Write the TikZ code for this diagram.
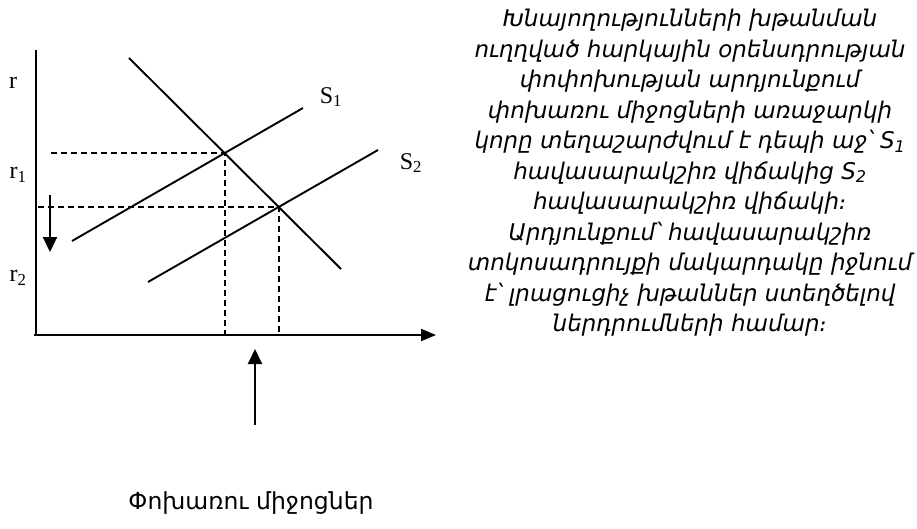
\documentclass[tikz,border=0pt]{standalone}
\usepackage{fontspec}
\setmainfont{Liberation Serif}
\newfontfamily\armfont{DejaVu Sans}
\usetikzlibrary{arrows.meta, positioning, calc}

\begin{document}
\begin{tikzpicture}[
    x=1pt, y=-1pt,
    % Define line styles
    curve/.style={line width=1.9pt},
    axis/.style={line width=2pt, -{Triangle[length=15pt, width=12pt]}},
    guide/.style={line width=1.8pt, dash pattern=on 6pt off 4pt},
    moveArrow/.style={line width=2pt, -{Triangle[length=15pt, width=14pt]}},
    % Define label styles
    lbl/.style={font=\fontsize{24}{26}\selectfont, inner sep=0pt},
    note/.style={font=\armfont\itshape\fontsize{23}{30.5}\selectfont, align=center, inner sep=0pt},
]

\useasboundingbox (0,0) rectangle (917,529);

% Axes
\coordinate (O) at (36,335);
\coordinate (Ytop) at (36,50);
\coordinate (Xend) at (436,335);
\draw[line width=2pt] (O) -- (Ytop);
\draw[axis] (34,335) -- (Xend);

% Demand and the two supply curves
\coordinate (D1) at (129,58);
\coordinate (D2) at (341,269);
\coordinate (S1a) at (72,241);
\coordinate (S1b) at (303,108);
\coordinate (S2a) at (148,282);
\coordinate (S2b) at (378,150);
\draw[curve] (D1) -- (D2);
\draw[curve] (S1a) -- (S1b);
\draw[curve] (S2a) -- (S2b);

% Equilibrium points
\coordinate (E1) at (intersection of D1--D2 and S1a--S1b);
\coordinate (E2) at (intersection of D1--D2 and S2a--S2b);
\coordinate (R1) at (51,0 |- E1);
\coordinate (R2) at (38,0 |- E2);

% Dashed guides
\draw[guide] (R1) -- (E1) -- (E1 |- O);
\draw[guide] (R2) -- (E2) -- (E2 |- O);

% Axis and curve labels
\node[lbl] (r) at (13,83) {r};
\node[lbl] (r1) at (18,175) {r\textsubscript{1}};
\node[lbl] (r2) at (18,278) {r\textsubscript{2}};
\node[lbl] (s1) at (331,97) {S\textsubscript{1}};
\node[lbl] (s2) at (411,163) {S\textsubscript{2}};

% Shift arrows
\coordinate (Dn1) at (50,195);
\coordinate (Dn2) at (50,252);
\coordinate (Up1) at (255,425);
\coordinate (Up2) at (255,349);
\draw[moveArrow] (Dn1) -- (Dn2);
\draw[moveArrow] (Up1) -- (Up2);

% Bottom caption
\node[font=\armfont\fontsize{23.5}{26}\selectfont, inner sep=0pt] (funds) at (251,503) {Փոխառու միջոցներ};

% Explanation text
\node[note, anchor=north] (expl) at (690,9) {Խնայողությունների խթանման\\
ուղղված հարկային օրենսդրության\\
փոփոխության արդյունքում\\
փոխառու միջոցների առաջարկի\\
կորը տեղաշարժվում է դեպի աջ՝ S\textsubscript{1}\\
հավասարակշիռ վիճակից S\textsubscript{2}\\
հավասարակշիռ վիճակի։\\
Արդյունքում՝ հավասարակշիռ\\
տոկոսադրույքի մակարդակը իջնում\\
է՝ լրացուցիչ խթաններ ստեղծելով\\
ներդրումների համար։};

\end{tikzpicture}
\end{document}
